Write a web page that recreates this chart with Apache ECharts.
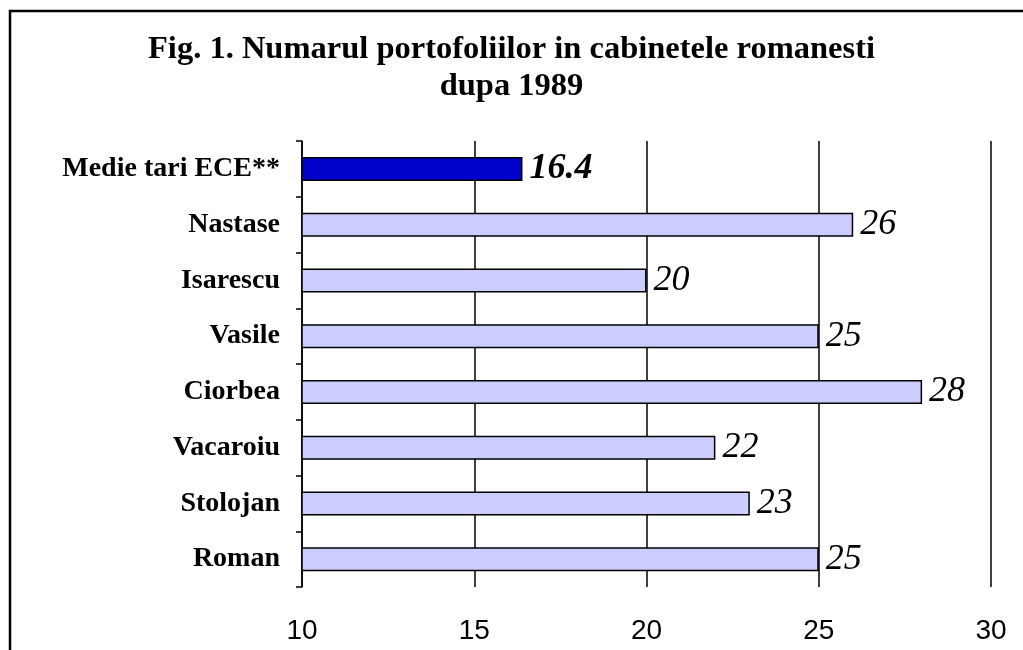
<!DOCTYPE html>
<html>
<head>
<meta charset="utf-8">
<script src="https://cdn.jsdelivr.net/npm/echarts@6/dist/echarts.min.js"></script>
<style>
  html, body { margin: 0; padding: 0; background: #fff; }
  #chart { width: 1023px; height: 650px; }
</style>
</head>
<body>
<div id="chart"></div>
<script>
// categories top to bottom
const cabinets = ['Medie tari ECE**', 'Nastase', 'Isarescu', 'Vasile', 'Ciorbea', 'Vacaroiu', 'Stolojan', 'Roman'];
const portfolios = [16.4, 26, 20, 25, 28, 22, 23, 25];
const highlight = 'Medie tari ECE**';
const xTicks = [10, 30, 5]; // min, max, interval

const serif = '"Liberation Serif", "DejaVu Serif", serif';

const chart = echarts.init(document.getElementById('chart'));

const data = cabinets.map((name, i) => {
  const isAvg = name === highlight;
  return {
    value: portfolios[i],
    itemStyle: { color: isAvg ? '#0000cc' : '#ccccff' },
    label: isAvg ? { fontWeight: 'bold' } : {}
  };
});

chart.setOption({
  backgroundColor: '#fff',
  animation: false,
  title: {
    text: 'Fig. 1. Numarul portofoliilor in cabinetele romanesti\ndupa 1989',
    left: 'center',
    top: 26,
    textStyle: {
      fontFamily: serif,
      fontWeight: 'bold',
      fontSize: 32.5,
      lineHeight: 37,
      color: '#000'
    }
  },
  graphic: [{
    type: 'rect',
    shape: { x: 10, y: 11, width: 1100, height: 700 },
    style: { fill: 'none', stroke: '#000', lineWidth: 2.5 },
    silent: true
  }],
  grid: { left: 302, right: 32, top: 141, bottom: 63 },
  xAxis: {
    type: 'value',
    min: xTicks[0],
    max: xTicks[1],
    interval: xTicks[2],
    axisLine: { show: false },
    axisTick: { show: false },
    splitLine: { show: true, lineStyle: { color: '#000', width: 1.5 } },
    axisLabel: {
      margin: 30,
      fontFamily: '"Liberation Sans", Arial, sans-serif',
      fontSize: 28,
      color: '#000'
    }
  },
  yAxis: {
    type: 'category',
    inverse: true,
    data: cabinets,
    axisLine: { show: true, lineStyle: { color: '#000', width: 1.5 } },
    axisTick: { show: true, length: 6, lineStyle: { color: '#000', width: 1.5 } },
    axisLabel: {
      margin: 22,
      fontFamily: serif,
      fontWeight: 'bold',
      fontSize: 28,
      color: '#000'
    }
  },
  series: [{
    type: 'bar',
    data: data,
    barWidth: 24,
    itemStyle: { borderColor: '#000', borderWidth: 1.5 },
    label: {
      show: true,
      position: 'right',
      distance: 7,
      fontFamily: serif,
      fontStyle: 'italic',
      fontSize: 36,
      color: '#000'
    }
  }]
});
</script>
</body>
</html>
